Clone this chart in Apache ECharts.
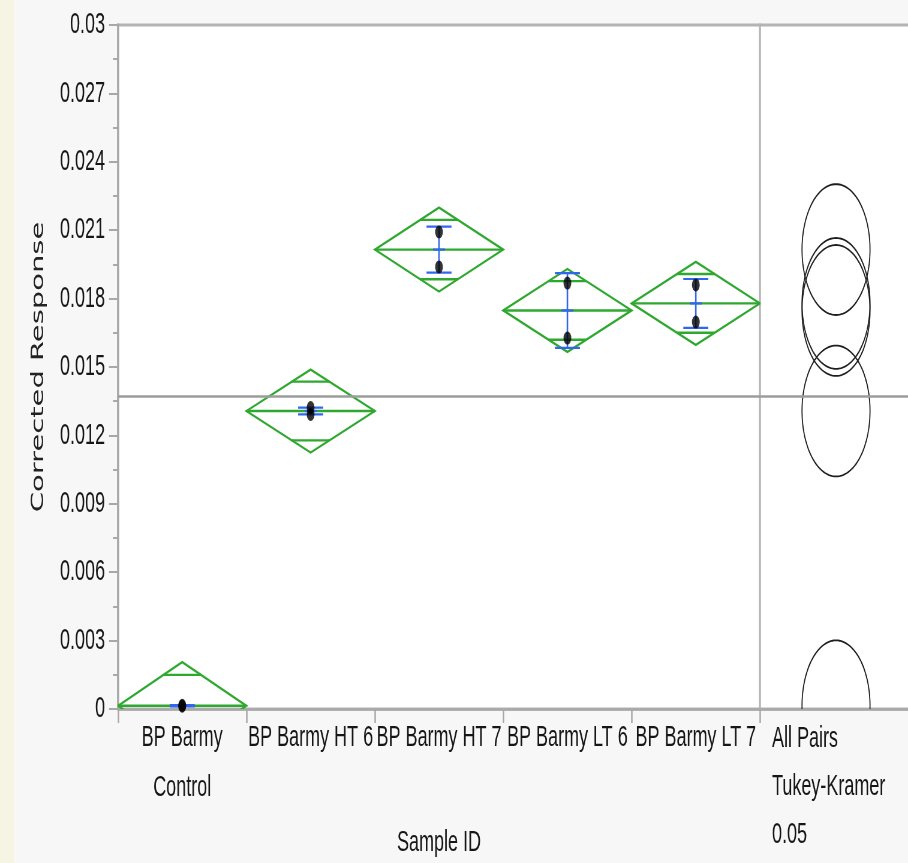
<!DOCTYPE html>
<html>
<head>
<meta charset="utf-8">
<script src="https://cdn.jsdelivr.net/npm/echarts@6/dist/echarts.min.js"></script>
<style>
  html, body { margin: 0; padding: 0; width: 908px; height: 863px; overflow: hidden; background: #f7f7f7; }
  #strip { position: absolute; left: 0; top: 0; width: 14px; height: 863px; background: #f6f5e3; }
  #chart { position: absolute; left: 0; top: 0; width: 1514px; height: 863px; transform: scaleX(0.59974); transform-origin: 0 0; }
</style>
</head>
<body>
<div id="strip"></div>
<div id="chart"></div>
<script>
// ---------- data ----------
const categories = ['BP Barmy\nControl', 'BP Barmy HT 6', 'BP Barmy HT 7', 'BP Barmy LT 6', 'BP Barmy LT 7'];
const groupMeans = [0.00014, 0.01307, 0.02015, 0.01748, 0.01779];
const ciHalfWidths = [0.00192, 0.00182, 0.00184, 0.00182, 0.00182];
const stdDevs = [0.00003, 0.00015, 0.00101, 0.00164, 0.00107];
const obsGroup = [0, 0, 1, 1, 2, 2, 3, 3, 4, 4];
const obsValues = [0.00012, 0.00016, 0.01322, 0.01292, 0.02092, 0.01939, 0.01868, 0.01627, 0.01860, 0.01697];
const grandMean = 0.01373;
const comparisonRadius = 0.00287;
const comparisonLabel = 'All Pairs\nTukey-Kramer\n0.05';
const yMin = 0, yMax = 0.03, yInterval = 0.003;
const xTitle = 'Sample ID';
const yTitle = 'Corrected Response';

// ---------- styling ----------
const S = 908 / 1514;            // horizontal squeeze applied by CSS
const px = v => v / S;           // reference px -> canvas px (horizontal)
const GREEN = '#2ea82e', BLUE = '#3366ee', GRAY = '#b4b4b4';
const TXT = '#161616';
const LABEL_FONT = "'Liberation Sans', Arial, sans-serif";
const CIRCLE_RX = px(34);
const CAP_HALF = px(12.5);
const MEAN_TICK_HALF = px(6);

const chart = echarts.init(document.getElementById('chart'), null, { renderer: 'canvas', width: 1514, height: 863 });

const diamondData = categories.map((c, i) => [i, groupMeans[i], ciHalfWidths[i]]);
const sdData = categories.map((c, i) => [i, groupMeans[i], stdDevs[i]]);
const pointData = obsValues.map((v, k) => [obsGroup[k], v]);
const circleData = groupMeans.map(m => [0.5, m, comparisonRadius]);

const grandLine = {
  silent: true, symbol: 'none', precision: 10, label: { show: false },
  lineStyle: { color: '#9c9c9c', width: 2.5, type: 'solid' },
  data: [{ yAxis: grandMean }]
};

const option = {
  backgroundColor: 'transparent',
  animation: false,
  grid: [
    { left: px(118), width: px(642), top: 25, height: 684, outerBoundsMode: 'none', containLabel: false,
      show: true, backgroundColor: '#ffffff', borderColor: GRAY, borderWidth: 3 },
    { left: px(760), width: px(152), top: 25, height: 684, outerBoundsMode: 'none', containLabel: false,
      show: true, backgroundColor: '#ffffff', borderColor: GRAY, borderWidth: 3 }
  ],
  xAxis: [
    {
      type: 'category', gridIndex: 0, data: categories, boundaryGap: true,
      axisLine: { lineStyle: { color: '#a8a8a8', width: 2.5 } },
      axisTick: { show: true, length: 14, interval: 0, lineStyle: { color: '#a8a8a8', width: 2.5 } },
      axisLabel: { interval: 0, margin: 4, fontSize: 30, lineHeight: 50, color: TXT, fontFamily: LABEL_FONT },
      name: xTitle, nameLocation: 'middle', nameGap: 108,
      nameTextStyle: { fontSize: 30, lineHeight: 50, color: TXT, fontFamily: LABEL_FONT }
    },
    {
      type: 'value', gridIndex: 1, min: 0, max: 1, interval: 1,
      axisLine: { lineStyle: { color: '#a8a8a8', width: 2.5 } },
      axisTick: { show: false }, splitLine: { show: false },
      axisLabel: {
        showMinLabel: true, showMaxLabel: false, margin: 6, align: 'left',
        padding: [0, 0, 0, px(12)], fontSize: 30, lineHeight: 48, color: TXT, fontFamily: LABEL_FONT,
        formatter: v => (v === 0 ? comparisonLabel : '')
      }
    }
  ],
  yAxis: [
    {
      type: 'value', gridIndex: 0, min: yMin, max: yMax, interval: yInterval,
      axisLine: { show: true, lineStyle: { color: '#a8a8a8', width: 3.5 } },
      axisTick: { show: true, length: px(9), lineStyle: { color: '#a8a8a8', width: 2 } },
      minorTick: { show: true, splitNumber: 2, length: px(5), lineStyle: { color: '#a8a8a8', width: 2 } },
      splitLine: { show: false },
      axisLabel: { margin: px(13), fontSize: 30, color: TXT, fontFamily: LABEL_FONT },
      name: yTitle, nameLocation: 'middle', nameGap: 118,
      nameTextStyle: { fontSize: 29, color: '#222', fontFamily: "'DejaVu Sans', Verdana, sans-serif" }
    },
    {
      type: 'value', gridIndex: 1, min: yMin, max: yMax, interval: yInterval, show: false
    }
  ],
  series: [
    {
      type: 'custom', name: 'diamonds', xAxisIndex: 0, yAxisIndex: 0, clip: true, z: 3,
      data: diamondData,
      markLine: grandLine,
      renderItem: (params, api) => {
        const c = api.coord([api.value(0), api.value(1)]);
        const h = api.size([0, api.value(2)])[1];
        const half = api.size([1, 0])[0] / 2;
        const o = h / Math.SQRT2;
        const ow = half * (1 - 1 / Math.SQRT2);
        const st = { stroke: GREEN, lineWidth: 2.4, fill: 'none' };
        return {
          type: 'group', children: [
            { type: 'polygon', shape: { points: [[c[0] - half, c[1]], [c[0], c[1] - h], [c[0] + half, c[1]], [c[0], c[1] + h]] }, style: st },
            { type: 'line', shape: { x1: c[0] - half, y1: c[1], x2: c[0] + half, y2: c[1] }, style: st },
            { type: 'line', shape: { x1: c[0] - ow, y1: c[1] - o, x2: c[0] + ow, y2: c[1] - o }, style: st },
            { type: 'line', shape: { x1: c[0] - ow, y1: c[1] + o, x2: c[0] + ow, y2: c[1] + o }, style: st }
          ]
        };
      }
    },
    {
      type: 'custom', name: 'std dev', xAxisIndex: 0, yAxisIndex: 0, clip: true, z: 4,
      data: sdData,
      renderItem: (params, api) => {
        const c = api.coord([api.value(0), api.value(1)]);
        const d = api.size([0, api.value(2)])[1];
        const st = { stroke: BLUE, lineWidth: 2.2, fill: 'none' };
        return {
          type: 'group', children: [
            { type: 'line', shape: { x1: c[0], y1: c[1] - d, x2: c[0], y2: c[1] + d }, style: { stroke: BLUE, lineWidth: 2.6 } },
            { type: 'line', shape: { x1: c[0] - CAP_HALF, y1: c[1] - d, x2: c[0] + CAP_HALF, y2: c[1] - d }, style: st },
            { type: 'line', shape: { x1: c[0] - CAP_HALF, y1: c[1] + d, x2: c[0] + CAP_HALF, y2: c[1] + d }, style: st },
            { type: 'line', shape: { x1: c[0] - MEAN_TICK_HALF, y1: c[1], x2: c[0] + MEAN_TICK_HALF, y2: c[1] }, style: st }
          ]
        };
      }
    },
    {
      type: 'scatter', name: 'observations', xAxisIndex: 0, yAxisIndex: 0, z: 5,
      data: pointData, symbol: 'circle', symbolSize: 13,
      itemStyle: { color: '#000000' }
    },
    {
      type: 'custom', name: 'comparison circles', xAxisIndex: 1, yAxisIndex: 1, clip: true, z: 3,
      data: circleData,
      markLine: grandLine,
      renderItem: (params, api) => {
        const c = api.coord([api.value(0), api.value(1)]);
        const ry = api.size([0, api.value(2)])[1];
        const pts = [];
        for (let k = 0; k < 120; k++) {
          const a = (k / 120) * Math.PI * 2;
          pts.push([c[0] + CIRCLE_RX * Math.cos(a), c[1] + ry * Math.sin(a)]);
        }
        return { type: 'polygon', shape: { points: pts }, style: { stroke: '#1e1e1e', lineWidth: 1.8, fill: 'none' } };
      }
    }
  ]
};
chart.setOption(option);
</script>
</body>
</html>
